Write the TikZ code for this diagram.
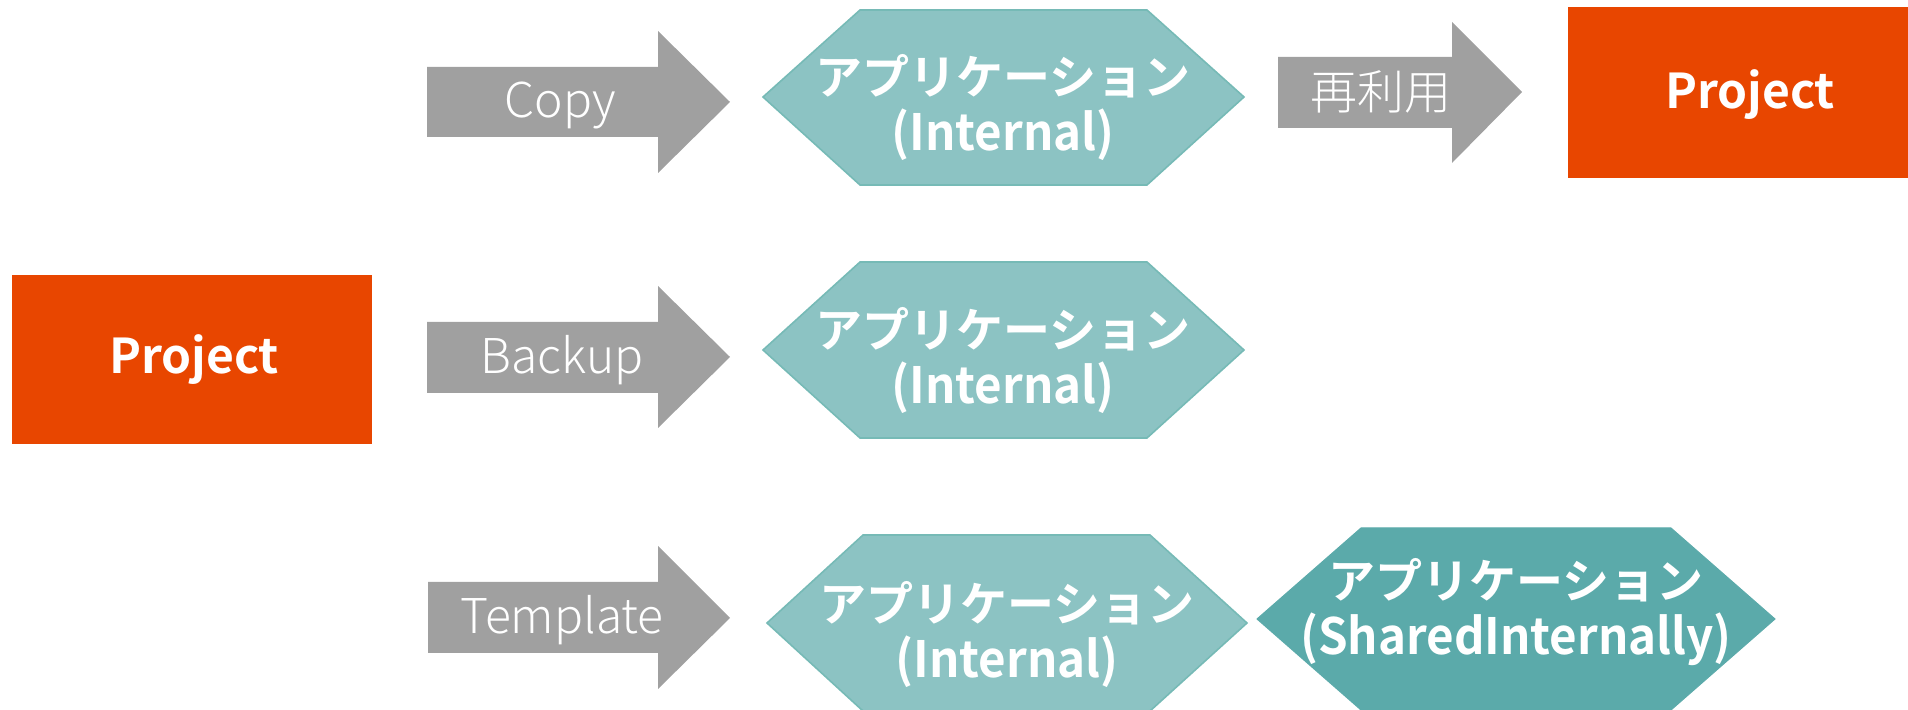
\documentclass[tikz,border=0pt]{standalone}
\usepackage{fontspec}
\usepackage{graphicx}
\newfontfamily\jpbold{Noto Sans CJK JP Bold}
\newfontfamily\jplight{Noto Sans CJK JP Light}
\definecolor{projorange}{RGB}{232,70,0}
\definecolor{arrowgray}{RGB}{160,160,160}
\definecolor{hexlightfill}{RGB}{140,195,195}
\definecolor{hexlightedge}{RGB}{118,186,182}
\definecolor{hexdarkfill}{RGB}{91,170,170}
\tikzset{
  projbox/.style={fill=projorange},
  blockarrow/.style={fill=arrowgray},
  hexlight/.style={fill=hexlightfill, draw=hexlightedge, line width=0.8pt, line join=miter},
  hexdark/.style={fill=hexdarkfill, draw=hexdarkfill, line width=0.5pt},
  projtext/.style={text=white, inner sep=0pt, anchor=base, font=\jpbold\fontsize{24}{28}\selectfont},
  arrowtext/.style={text=white, inner sep=0pt, anchor=base, font=\jplight\fontsize{24}{28}\selectfont},
  arrowtextjp/.style={text=white, inner sep=0pt, font=\jplight\fontsize{23.5}{28}\selectfont},
  hextext/.style={text=white, inner sep=0pt, align=center, font=\jpbold\fontsize{23.5}{28}\selectfont},
}
\newcommand\latinpart[1]{\scalebox{0.95}[1]{\fontsize{25}{28}\selectfont #1}}
\begin{document}
\begin{tikzpicture}[x=0.5pt,y=-0.5pt]
  \useasboundingbox (0,0) rectangle (1908,710);

  % source project
  \fill[projbox] (12,275) rectangle (372,444);
  \node[projtext] (src) at (194,374) {Project};

  % block arrows
  \fill[blockarrow] (427,67) -- (658,67) -- (658,31) -- (730,102) -- (658,173) -- (658,137) -- (427,137) -- cycle;
  \node[arrowtext] (copy) at (560,118) {Copy};
  \fill[blockarrow] (427,322) -- (658,322) -- (658,286) -- (730,357) -- (658,428) -- (658,393) -- (427,393) -- cycle;
  \node[arrowtext] (backup) at (562,374) {Backup};
  \fill[blockarrow] (428,582) -- (658,582) -- (658,546) -- (730,618) -- (658,689) -- (658,653) -- (428,653) -- cycle;
  \node[arrowtext] (template) at (562,634) {Template};
  \fill[blockarrow] (1278,57) -- (1452,57) -- (1452,22) -- (1522,92) -- (1452,163) -- (1452,128) -- (1278,128) -- cycle;
  \node[arrowtextjp] (reuse) at (1381,92) {再利用};

  % applications
  \filldraw[hexlight] (763,97) -- (860,10) -- (1147,10) -- (1244,97) -- (1147,185) -- (860,185) -- cycle;
  \node[hextext] (app1) at (1003,108) {アプリケーション\\\latinpart{(Internal)}};
  \filldraw[hexlight] (763,350) -- (860,262) -- (1147,262) -- (1244,350) -- (1147,438) -- (860,438) -- cycle;
  \node[hextext] (app2) at (1003,361) {アプリケーション\\\latinpart{(Internal)}};
  \filldraw[hexlight] (767,623) -- (863,535) -- (1150,535) -- (1247,623) -- (1150,711) -- (863,711) -- cycle;
  \node[hextext] (app3) at (1007,635) {アプリケーション\\\latinpart{(Internal)}};
  \filldraw[hexdark] (1257,619) -- (1361,528) -- (1671,528) -- (1775,619) -- (1671,710) -- (1361,710) -- cycle;
  \node[hextext] (app4) at (1516,612) {アプリケーション\\\latinpart{(SharedInternally)}};

  % reused project
  \fill[projbox] (1568,7) rectangle (1908,178);
  \node[projtext] (dst) at (1750,109) {Project};
\end{tikzpicture}
\end{document}
